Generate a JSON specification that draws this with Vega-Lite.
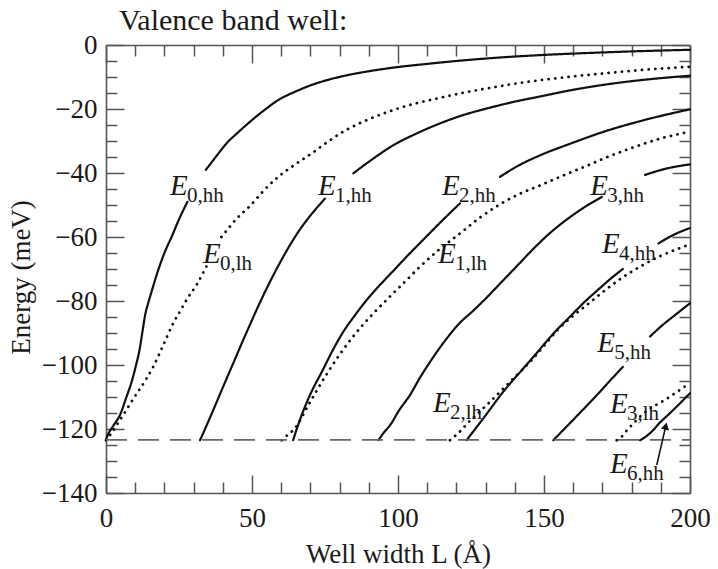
{
  "$schema": "https://vega.github.io/schema/vega-lite/v6.json",
  "width": 584,
  "height": 448,
  "autosize": "none",
  "padding": {"left": 106, "top": 45, "right": 28, "bottom": 76},
  "background": "white",
  "title": {"text": "Valence band well:", "anchor": "start", "frame": "group", "font": "Liberation Serif", "fontSize": 30, "fontWeight": "normal", "color": "#1a1a1a", "dx": 13, "dy": 30, "offset": 1, "baseline": "alphabetic"},
  "config": {
    "view": {"stroke": null},
    "axis": {"labelFont": "Liberation Serif", "titleFont": "Liberation Serif", "labelFontSize": 27, "titleFontSize": 27, "labelColor": "#1a1a1a", "titleColor": "#1a1a1a", "titleFontWeight": "normal", "domainColor": "#555555", "tickColor": "#555555", "domainWidth": 1.6, "tickWidth": 1.5, "grid": false, "labelFlush": false, "labelOverlap": false}
  },
  "datasets": {
    "curves": [
      {"id":"a1","k":"hh","L":0,"E":-123.5},{"id":"a1","k":"hh","L":0.2,"E":-122.9},{"id":"a1","k":"hh","L":2.5,"E":-119},{"id":"a1","k":"hh","L":4.8,"E":-115.6},{"id":"a1","k":"hh","L":7,"E":-110},{"id":"a1","k":"hh","L":8.8,"E":-105.2},{"id":"a1","k":"hh","L":10.3,"E":-100},{"id":"a1","k":"hh","L":11.6,"E":-94.7},{"id":"a1","k":"hh","L":12.5,"E":-89.5},{"id":"a1","k":"hh","L":13.4,"E":-84.4},{"id":"a1","k":"hh","L":14.5,"E":-80.5},{"id":"a1","k":"hh","L":15.6,"E":-77.1},{"id":"a1","k":"hh","L":18,"E":-70},{"id":"a1","k":"hh","L":20,"E":-65},{"id":"a1","k":"hh","L":22.5,"E":-59.9},{"id":"a1","k":"hh","L":25,"E":-54.5},{"id":"a1","k":"hh","L":27.9,"E":-49},
      {"id":"a2","k":"hh","L":34.2,"E":-39},{"id":"a2","k":"hh","L":38,"E":-34.5},{"id":"a2","k":"hh","L":41.3,"E":-30.7},{"id":"a2","k":"hh","L":45,"E":-27.5},{"id":"a2","k":"hh","L":49.3,"E":-24},{"id":"a2","k":"hh","L":54,"E":-20.5},{"id":"a2","k":"hh","L":59,"E":-17.2},{"id":"a2","k":"hh","L":65,"E":-14.5},{"id":"a2","k":"hh","L":70.4,"E":-12.5},{"id":"a2","k":"hh","L":76,"E":-10.9},{"id":"a2","k":"hh","L":81.8,"E":-9.6},{"id":"a2","k":"hh","L":90,"E":-8.2},{"id":"a2","k":"hh","L":99,"E":-7},{"id":"a2","k":"hh","L":110,"E":-5.9},{"id":"a2","k":"hh","L":120,"E":-5},{"id":"a2","k":"hh","L":135,"E":-3.9},{"id":"a2","k":"hh","L":150,"E":-3.1},{"id":"a2","k":"hh","L":165,"E":-2.5},{"id":"a2","k":"hh","L":180,"E":-2.0},{"id":"a2","k":"hh","L":200,"E":-1.5},
      {"id":"b1","k":"lh","L":0,"E":-123.5},{"id":"b1","k":"lh","L":1.4,"E":-121.9},{"id":"b1","k":"lh","L":3.5,"E":-119},{"id":"b1","k":"lh","L":5.9,"E":-115.6},{"id":"b1","k":"lh","L":9.4,"E":-110.5},{"id":"b1","k":"lh","L":13.9,"E":-104.2},{"id":"b1","k":"lh","L":16.2,"E":-100.5},{"id":"b1","k":"lh","L":19.6,"E":-93.8},{"id":"b1","k":"lh","L":23,"E":-87},{"id":"b1","k":"lh","L":25.3,"E":-83.3},{"id":"b1","k":"lh","L":28,"E":-79},{"id":"b1","k":"lh","L":31,"E":-75},{"id":"b1","k":"lh","L":34.5,"E":-69},
      {"id":"b2","k":"lh","L":39.5,"E":-60},{"id":"b2","k":"lh","L":42,"E":-57.2},{"id":"b2","k":"lh","L":45,"E":-54},{"id":"b2","k":"lh","L":49.3,"E":-50.3},{"id":"b2","k":"lh","L":54,"E":-45.5},{"id":"b2","k":"lh","L":59,"E":-41.2},{"id":"b2","k":"lh","L":65,"E":-37.2},{"id":"b2","k":"lh","L":70.4,"E":-33.9},{"id":"b2","k":"lh","L":76,"E":-30.2},{"id":"b2","k":"lh","L":81.8,"E":-26.8},{"id":"b2","k":"lh","L":90,"E":-23.2},{"id":"b2","k":"lh","L":97.8,"E":-20.5},{"id":"b2","k":"lh","L":105,"E":-18.5},{"id":"b2","k":"lh","L":114.4,"E":-16.5},{"id":"b2","k":"lh","L":122,"E":-15},{"id":"b2","k":"lh","L":131.5,"E":-13.4},{"id":"b2","k":"lh","L":140,"E":-12.1},{"id":"b2","k":"lh","L":148.6,"E":-11},{"id":"b2","k":"lh","L":160,"E":-9.8},{"id":"b2","k":"lh","L":170,"E":-8.9},{"id":"b2","k":"lh","L":185,"E":-7.7},{"id":"b2","k":"lh","L":200,"E":-6.8},
      {"id":"c1","k":"hh","L":32.2,"E":-123.5},{"id":"c1","k":"hh","L":34.5,"E":-118.8},{"id":"c1","k":"hh","L":37,"E":-113.5},{"id":"c1","k":"hh","L":40.2,"E":-106.6},{"id":"c1","k":"hh","L":43.6,"E":-99.4},{"id":"c1","k":"hh","L":46.5,"E":-93.2},{"id":"c1","k":"hh","L":49.3,"E":-87.4},{"id":"c1","k":"hh","L":52.2,"E":-81.5},{"id":"c1","k":"hh","L":55.5,"E":-75.2},{"id":"c1","k":"hh","L":59,"E":-69},{"id":"c1","k":"hh","L":62.5,"E":-63.3},{"id":"c1","k":"hh","L":66,"E":-58.2},{"id":"c1","k":"hh","L":70,"E":-53.3},{"id":"c1","k":"hh","L":75,"E":-48},
      {"id":"c2","k":"hh","L":84.7,"E":-40.1},{"id":"c2","k":"hh","L":90,"E":-36.5},{"id":"c2","k":"hh","L":99,"E":-31},{"id":"c2","k":"hh","L":106,"E":-27.8},{"id":"c2","k":"hh","L":114.4,"E":-24.5},{"id":"c2","k":"hh","L":122,"E":-22},{"id":"c2","k":"hh","L":131.5,"E":-19.6},{"id":"c2","k":"hh","L":140,"E":-17.7},{"id":"c2","k":"hh","L":148.6,"E":-16.1},{"id":"c2","k":"hh","L":160,"E":-14},{"id":"c2","k":"hh","L":170,"E":-12.5},{"id":"c2","k":"hh","L":185,"E":-10.8},{"id":"c2","k":"hh","L":200,"E":-9.6},
      {"id":"d1","k":"hh","L":64.1,"E":-123.5},{"id":"d1","k":"hh","L":65.5,"E":-119.5},{"id":"d1","k":"hh","L":67.5,"E":-114.5},{"id":"d1","k":"hh","L":70.4,"E":-108.3},{"id":"d1","k":"hh","L":74,"E":-102},{"id":"d1","k":"hh","L":77.3,"E":-96},{"id":"d1","k":"hh","L":81,"E":-90},{"id":"d1","k":"hh","L":85.3,"E":-84.4},{"id":"d1","k":"hh","L":89,"E":-80},{"id":"d1","k":"hh","L":93.3,"E":-75.5},{"id":"d1","k":"hh","L":99,"E":-70},{"id":"d1","k":"hh","L":103,"E":-66.1},{"id":"d1","k":"hh","L":108.7,"E":-60.8},{"id":"d1","k":"hh","L":115,"E":-55},{"id":"d1","k":"hh","L":121.2,"E":-49.5},
      {"id":"d2","k":"hh","L":134.9,"E":-41.2},{"id":"d2","k":"hh","L":141,"E":-37.8},{"id":"d2","k":"hh","L":148.6,"E":-34.5},{"id":"d2","k":"hh","L":160,"E":-30.5},{"id":"d2","k":"hh","L":169.8,"E":-27.3},{"id":"d2","k":"hh","L":185,"E":-23.3},{"id":"d2","k":"hh","L":200,"E":-20.1},
      {"id":"e1","k":"lh","L":60.2,"E":-123.5},{"id":"e1","k":"lh","L":62,"E":-122},{"id":"e1","k":"lh","L":64.7,"E":-119.8},{"id":"e1","k":"lh","L":69.3,"E":-112.5},{"id":"e1","k":"lh","L":76.1,"E":-102.1},{"id":"e1","k":"lh","L":84.1,"E":-91.7},{"id":"e1","k":"lh","L":91,"E":-84.4},{"id":"e1","k":"lh","L":97.8,"E":-78.1},{"id":"e1","k":"lh","L":103,"E":-73.4},{"id":"e1","k":"lh","L":107.5,"E":-69.3},{"id":"e1","k":"lh","L":114,"E":-64},{"id":"e1","k":"lh","L":121.2,"E":-58.9},{"id":"e1","k":"lh","L":128,"E":-54},{"id":"e1","k":"lh","L":134.9,"E":-49.8},{"id":"e1","k":"lh","L":141,"E":-46.8},{"id":"e1","k":"lh","L":148.6,"E":-43.9},{"id":"e1","k":"lh","L":156,"E":-41},{"id":"e1","k":"lh","L":164,"E":-38},{"id":"e1","k":"lh","L":172,"E":-34.9},{"id":"e1","k":"lh","L":181.2,"E":-31.8},{"id":"e1","k":"lh","L":190,"E":-29.2},{"id":"e1","k":"lh","L":200,"E":-27.1},
      {"id":"f1","k":"hh","L":93.3,"E":-123.5},{"id":"f1","k":"hh","L":95,"E":-121.3},{"id":"f1","k":"hh","L":97.3,"E":-118.8},{"id":"f1","k":"hh","L":100.5,"E":-114},{"id":"f1","k":"hh","L":104.1,"E":-109.4},{"id":"f1","k":"hh","L":107.5,"E":-104},{"id":"f1","k":"hh","L":111,"E":-99},{"id":"f1","k":"hh","L":116.7,"E":-91.7},{"id":"f1","k":"hh","L":121,"E":-87},{"id":"f1","k":"hh","L":125.8,"E":-83},{"id":"f1","k":"hh","L":130.5,"E":-78.8},{"id":"f1","k":"hh","L":135,"E":-74.5},{"id":"f1","k":"hh","L":140.6,"E":-69.2},{"id":"f1","k":"hh","L":146.9,"E":-63.2},{"id":"f1","k":"hh","L":152,"E":-58.8},{"id":"f1","k":"hh","L":158.3,"E":-54.2},{"id":"f1","k":"hh","L":164,"E":-50.6},{"id":"f1","k":"hh","L":169.8,"E":-47.5},
      {"id":"f2","k":"hh","L":184.6,"E":-40.6},{"id":"f2","k":"hh","L":192,"E":-38.6},{"id":"f2","k":"hh","L":200,"E":-37.3},
      {"id":"g1","k":"hh","L":123.5,"E":-123.5},{"id":"g1","k":"hh","L":126,"E":-120.5},{"id":"g1","k":"hh","L":129.2,"E":-116.7},{"id":"g1","k":"hh","L":136.1,"E":-108.3},{"id":"g1","k":"hh","L":143,"E":-101},{"id":"g1","k":"hh","L":146.9,"E":-96.9},{"id":"g1","k":"hh","L":153.8,"E":-89.6},{"id":"g1","k":"hh","L":159,"E":-84.8},{"id":"g1","k":"hh","L":164,"E":-80.2},{"id":"g1","k":"hh","L":168.5,"E":-76.5},{"id":"g1","k":"hh","L":172.6,"E":-73.2},{"id":"g1","k":"hh","L":177,"E":-70},
      {"id":"g2","k":"hh","L":189.2,"E":-62},{"id":"g2","k":"hh","L":194,"E":-59.5},{"id":"g2","k":"hh","L":200,"E":-57.2},
      {"id":"h1","k":"lh","L":117.8,"E":-123.5},{"id":"h1","k":"lh","L":119.5,"E":-122.2},{"id":"h1","k":"lh","L":121.2,"E":-120.8},{"id":"h1","k":"lh","L":124,"E":-118},{"id":"h1","k":"lh","L":127.5,"E":-115},{"id":"h1","k":"lh","L":131.5,"E":-111.5},{"id":"h1","k":"lh","L":138.4,"E":-105.2},{"id":"h1","k":"lh","L":145.2,"E":-99},{"id":"h1","k":"lh","L":150,"E":-94},{"id":"h1","k":"lh","L":154.9,"E":-88.8},{"id":"h1","k":"lh","L":160,"E":-84.6},{"id":"h1","k":"lh","L":165,"E":-81},{"id":"h1","k":"lh","L":170,"E":-77.3},{"id":"h1","k":"lh","L":176,"E":-73.2},{"id":"h1","k":"lh","L":183.4,"E":-69},{"id":"h1","k":"lh","L":189.2,"E":-66.2},{"id":"h1","k":"lh","L":195,"E":-64},{"id":"h1","k":"lh","L":200,"E":-62.3},
      {"id":"i1","k":"hh","L":153.2,"E":-123.5},{"id":"i1","k":"hh","L":158,"E":-119},{"id":"i1","k":"hh","L":163,"E":-114.3},{"id":"i1","k":"hh","L":168,"E":-109.5},{"id":"i1","k":"hh","L":172.5,"E":-105},{"id":"i1","k":"hh","L":177,"E":-100.6},
      {"id":"i2","k":"hh","L":186.3,"E":-91.1},{"id":"i2","k":"hh","L":190,"E":-88},{"id":"i2","k":"hh","L":195,"E":-84.3},{"id":"i2","k":"hh","L":200,"E":-80.7},
      {"id":"j1","k":"lh","L":174.9,"E":-123.5},{"id":"j1","k":"lh","L":176.5,"E":-122.5},{"id":"j1","k":"lh","L":178.3,"E":-120.5},{"id":"j1","k":"lh","L":181.2,"E":-117.7},{"id":"j1","k":"lh","L":184,"E":-115.2},{"id":"j1","k":"lh","L":187.4,"E":-113},{"id":"j1","k":"lh","L":190.3,"E":-111.5},{"id":"j1","k":"lh","L":194.9,"E":-108.8},{"id":"j1","k":"lh","L":200,"E":-105.6},
      {"id":"k1","k":"hh","L":182.9,"E":-123.5},{"id":"k1","k":"hh","L":185,"E":-122.3},{"id":"k1","k":"hh","L":186.9,"E":-120.8},{"id":"k1","k":"hh","L":189.7,"E":-118},{"id":"k1","k":"hh","L":192.6,"E":-115.5},{"id":"k1","k":"hh","L":196,"E":-112.5},{"id":"k1","k":"hh","L":200,"E":-108.8}
    ],
    "labels": [
      {"L":21.9,"E":-46.9,"sub":"0,hh"},
      {"L":33.2,"E":-68.1,"sub":"0,lh"},
      {"L":72.6,"E":-46.9,"sub":"1,hh"},
      {"L":115.1,"E":-46.9,"sub":"2,hh"},
      {"L":165.8,"E":-46.9,"sub":"3,hh"},
      {"L":113.7,"E":-68.1,"sub":"1,lh"},
      {"L":169.9,"E":-65,"sub":"4,hh"},
      {"L":112,"E":-114.7,"sub":"2,lh"},
      {"L":168.2,"E":-95.9,"sub":"5,hh"},
      {"L":172.6,"E":-115,"sub":"3,lh"},
      {"L":172.6,"E":-133.8,"sub":"6,hh"}
    ],
    "ref": [{"L":0,"L2":200,"E":-123.4}],
    "arrow": [{"L":188.6,"E":-131.3,"L2":191.6,"E2":-119.5}],
    "head": [{"L":191.7,"E":-119.1}]
  },
  "resolve": {"axis": {"x": "independent", "y": "independent"}},
  "layer": [
    {
      "data": {"name": "curves"},
      "mark": {"type": "line", "color": "#111111", "strokeCap": "round", "strokeJoin": "round", "interpolate": "monotone"},
      "encoding": {
        "x": {"field": "L", "type": "quantitative", "scale": {"domain": [0, 200], "nice": false, "zero": false},
              "axis": {"orient": "bottom", "values": [0, 50, 100, 150, 200], "ticks": false, "labelPadding": 12, "title": "Well width L (Å)", "titlePadding": 10, "domain": true}},
        "y": {"field": "E", "type": "quantitative", "scale": {"domain": [-140, 0], "nice": false, "zero": false},
              "axis": {"orient": "left", "values": [-140, -120, -100, -80, -60, -40, -20, 0], "ticks": false, "labelPadding": 9, "title": "Energy (meV)", "titlePadding": 6, "titleY": 232, "domain": true}},
        "detail": {"field": "id", "type": "nominal"},
        "strokeDash": {"field": "k", "type": "nominal", "scale": {"domain": ["hh", "lh"], "range": [[1, 0], [0.1, 6.6]]}, "legend": null},
        "strokeWidth": {"field": "k", "type": "nominal", "scale": {"domain": ["hh", "lh"], "range": [2.2, 2.8]}, "legend": null}
      }
    },
    {
      "data": {"name": "ref"},
      "mark": {"type": "rule", "color": "#666666", "strokeWidth": 1.8, "strokeDash": [21, 11]},
      "encoding": {
        "x": {"field": "L", "type": "quantitative", "scale": {"domain": [0, 200], "nice": false, "zero": false},
              "axis": {"orient": "bottom", "values": [0, 50, 100, 150, 200], "tickSize": -18, "labels": false, "domain": false, "title": null}},
        "x2": {"field": "L2"},
        "y": {"field": "E", "type": "quantitative", "scale": {"domain": [-140, 0], "nice": false, "zero": false},
              "axis": {"orient": "left", "values": [-140, -120, -100, -80, -60, -40, -20, 0], "tickSize": -18, "labels": false, "domain": false, "title": null}}
      }
    },
    {
      "data": {"name": "labels"},
      "mark": {"type": "text", "text": "E", "font": "Liberation Serif", "fontStyle": "italic", "fontSize": 29, "align": "left", "baseline": "alphabetic", "color": "#1a1a1a"},
      "encoding": {
        "x": {"field": "L", "type": "quantitative", "scale": {"domain": [0, 200], "nice": false, "zero": false},
              "axis": {"orient": "bottom", "values": [10, 20, 30, 40, 60, 70, 80, 90, 110, 120, 130, 140, 160, 170, 180, 190], "tickSize": -11, "labels": false, "domain": false, "title": null}},
        "y": {"field": "E", "type": "quantitative", "scale": {"domain": [-140, 0], "nice": false, "zero": false},
              "axis": {"orient": "left", "values": [-135, -130, -125, -115, -110, -105, -95, -90, -85, -75, -70, -65, -55, -50, -45, -35, -30, -25, -15, -10, -5], "tickSize": -11, "labels": false, "domain": false, "title": null}}
      }
    },
    {
      "data": {"name": "labels"},
      "mark": {"type": "text", "font": "Liberation Serif", "fontSize": 21, "align": "left", "baseline": "alphabetic", "dx": 17, "dy": 7, "color": "#1a1a1a"},
      "encoding": {
        "x": {"field": "L", "type": "quantitative", "scale": {"domain": [0, 200], "nice": false, "zero": false},
              "axis": {"orient": "top", "values": [0, 50, 100, 150, 200], "tickSize": -18, "labels": false, "domain": true, "title": null}},
        "y": {"field": "E", "type": "quantitative", "scale": {"domain": [-140, 0], "nice": false, "zero": false},
              "axis": {"orient": "right", "values": [-140, -120, -100, -80, -60, -40, -20, 0], "tickSize": -18, "labels": false, "domain": true, "title": null}},
        "text": {"field": "sub", "type": "nominal"}
      }
    },
    {
      "data": {"name": "arrow"},
      "mark": {"type": "rule", "color": "#111111", "strokeWidth": 1.6},
      "encoding": {
        "x": {"field": "L", "type": "quantitative", "scale": {"domain": [0, 200], "nice": false, "zero": false},
              "axis": {"orient": "top", "values": [10, 20, 30, 40, 60, 70, 80, 90, 110, 120, 130, 140, 160, 170, 180, 190], "tickSize": -11, "labels": false, "domain": false, "title": null}},
        "x2": {"field": "L2"},
        "y": {"field": "E", "type": "quantitative", "scale": {"domain": [-140, 0], "nice": false, "zero": false},
              "axis": {"orient": "right", "values": [-135, -130, -125, -115, -110, -105, -95, -90, -85, -75, -70, -65, -55, -50, -45, -35, -30, -25, -15, -10, -5], "tickSize": -11, "labels": false, "domain": false, "title": null}},
        "y2": {"field": "E2"}
      }
    },
    {
      "data": {"name": "head"},
      "mark": {"type": "point", "shape": "triangle-up", "filled": true, "color": "#111111", "size": 70, "angle": 13, "opacity": 1},
      "encoding": {
        "x": {"field": "L", "type": "quantitative", "scale": {"domain": [0, 200], "nice": false, "zero": false}, "axis": null},
        "y": {"field": "E", "type": "quantitative", "scale": {"domain": [-140, 0], "nice": false, "zero": false}, "axis": null}
      }
    }
  ]
}
